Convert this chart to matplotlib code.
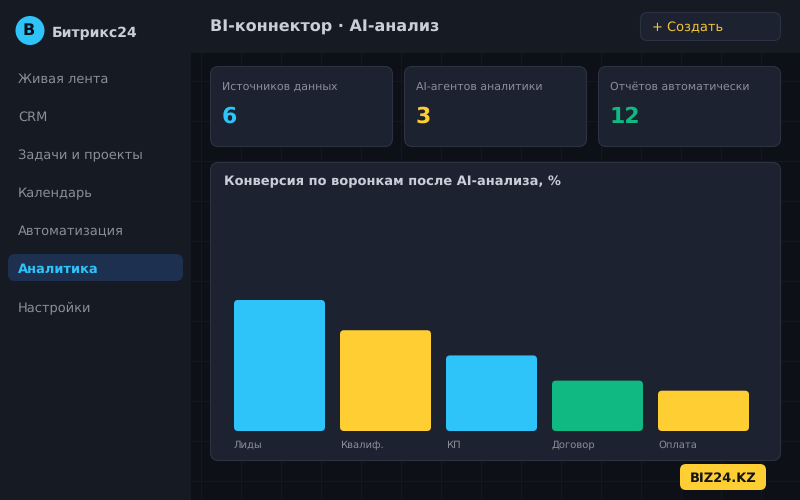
import matplotlib
matplotlib.use("Agg")
import matplotlib.pyplot as plt
from matplotlib.patches import FancyBboxPatch, Rectangle, Circle

plt.rcParams['font.family'] = ['DejaVu Sans']
plt.rcParams['text.hinting'] = 'no_hinting'
plt.rcParams['text.hinting_factor'] = 1

# ---- data ----
brand = "Битрикс24"
logo_letter = "B"
page_title = "BI-коннектор · AI-анализ"
create_label = "+ Создать"
menu_items = ["Живая лента", "CRM", "Задачи и проекты", "Календарь",
              "Автоматизация", "Аналитика", "Настройки"]
active_item = "Аналитика"
kpi_labels = ["Источников данных", "AI-агентов аналитики", "Отчётов автоматически"]
kpi_values = ["6", "3", "12"]
chart_title = "Конверсия по воронкам после AI-анализа, %"
stages = ["Лиды", "Квалиф.", "КП", "Договор", "Оплата"]
conversion = [130, 100, 75, 50, 40]
badge = "BIZ24.KZ"

# ---- colours ----
BLUE, YELLOW, GREEN = "#2ec4fa", "#ffce33", "#10b981"
bar_colors = [BLUE, YELLOW, BLUE, GREEN, YELLOW]
kpi_colors = [BLUE, YELLOW, GREEN]
BG, SIDE, CARD, EDGE = "#0d1017", "#161a23", "#1c2230", "#2b3242"
GRID = "#14171f"
GREY, LIGHT = "#8b8f98", "#c9ced8"

fig = plt.figure(figsize=(8, 5), dpi=100, facecolor=BG)
ui = fig.add_axes([0, 0, 1, 1])
ui.set_xlim(0, 800)
ui.set_ylim(500, 0)
ui.axis("off")


def rbox(x, y, w, h, r, fc, ec="none", lw=0.0, z=2):
    ui.add_patch(FancyBboxPatch((x + r, y + r), w - 2 * r, h - 2 * r,
                                boxstyle=f"round,pad={r},rounding_size={r}",
                                fc=fc, ec=ec, lw=lw, zorder=z))


# background grid
for gx in range(200, 800, 40):
    ui.plot([gx + 0.5, gx + 0.5], [53, 500], color=GRID, lw=0.8, zorder=1)
for gy in range(80, 500, 40):
    ui.plot([191, 800], [gy + 0.5, gy + 0.5], color=GRID, lw=0.8, zorder=1)

# sidebar and header
ui.add_patch(Rectangle((0, 0), 190.5, 500, fc=SIDE, ec="none", zorder=2))
ui.add_patch(Rectangle((190, 0), 610, 52.5, fc=SIDE, ec="none", zorder=2))

ui.add_patch(Circle((30, 30.5), 14.5, fc=BLUE, ec="none", zorder=3))
ui.text(29, 30.5, logo_letter, color="#0d1017", fontsize=11.5, fontweight="bold",
        ha="center", va="center", zorder=4)
ui.text(52, 37, brand, color=LIGHT, fontsize=10.2, fontweight="bold",
        ha="left", va="baseline", zorder=4)

rbox(8, 254, 175, 27, 7, "#1e3050", z=3)
for i, item in enumerate(menu_items):
    on = item == active_item
    ui.text(18, 83 + 38 * i, item, color=BLUE if on else GREY, fontsize=9.3,
            fontweight="bold" if on else "normal", ha="left", va="baseline", zorder=4)

ui.text(210, 32, page_title, color=LIGHT, fontsize=11.5, fontweight="bold",
        ha="left", va="baseline", zorder=4)
rbox(640.5, 12.5, 140, 28, 7, CARD, EDGE, 0.8, 3)
ui.text(652, 31, create_label, color="#f2c53d", fontsize=9.3, ha="left", va="baseline", zorder=4)

# KPI cards
for i, (lab, val, col) in enumerate(zip(kpi_labels, kpi_values, kpi_colors)):
    x0 = 210.5 + 194 * i
    rbox(x0, 66.5, 182, 80, 8, CARD, EDGE, 0.8, 3)
    ui.text(x0 + 11.5, 89.5, lab, color=GREY, fontsize=8.0, ha="left", va="baseline", zorder=4)
    ui.text(x0 + 11.5, 123, val, color=col, fontsize=16, fontweight="bold",
            ha="left", va="baseline", zorder=4)

# chart card
rbox(210.5, 162.5, 570, 298, 8, CARD, EDGE, 0.8, 3)
ui.text(224, 185, chart_title, color=LIGHT, fontsize=9.3, fontweight="bold",
        ha="left", va="baseline", zorder=4)

# bar chart: axes placed so that baseline and pitch sit where the card needs them
px_left, px_right, px_base, px_top = 234, 749, 431, 171
ax = fig.add_axes([px_left / 800, 1 - px_base / 500,
                   (px_right - px_left) / 800, (px_base - px_top) / 500], zorder=5)
ax.patch.set_alpha(0)
bar_w = 91 / 106
xs = list(range(len(stages)))
ax.set_xlim(-bar_w / 2, len(stages) - 1 + bar_w / 2)
y_scale = 130 / 131
ax.set_ylim(0, (px_base - px_top) * y_scale)
ax.axis("off")
x_unit = (len(stages) - 1 + bar_w) / (px_right - px_left)  # data per pixel
r = 4
for x, v, c, name in zip(xs, conversion, bar_colors, stages):
    bx = x - bar_w / 2
    ax.add_patch(FancyBboxPatch((bx + r * x_unit, r * y_scale),
                                bar_w - 2 * r * x_unit, v - 2 * r * y_scale,
                                boxstyle=f"round,pad={r * x_unit},rounding_size={r * x_unit}",
                                mutation_aspect=y_scale / x_unit,
                                fc=c, ec="none"))
    ax.annotate(name, xy=(bx, 0), xytext=(0, -12), textcoords="offset points",
                color=GREY, fontsize=7.0, ha="left", va="baseline", annotation_clip=False)

# badge
rbox(680, 464, 86, 26, 6, YELLOW, z=6)
ui.text(723, 482.5, badge, color="#12141a", fontsize=9.5, fontweight="bold",
        ha="center", va="baseline", zorder=7)

fig.savefig("out.png", dpi=100, facecolor=BG)
